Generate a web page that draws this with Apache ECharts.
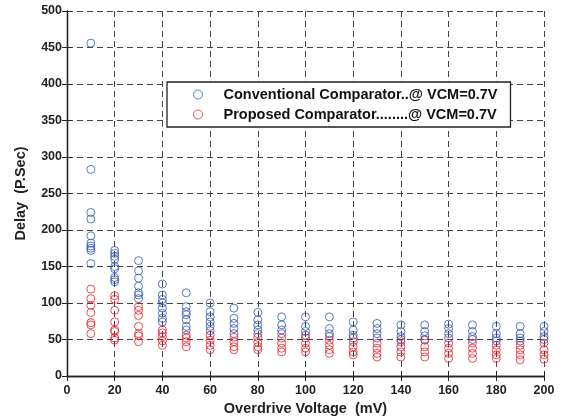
<!DOCTYPE html>
<html>
<head>
<meta charset="utf-8">
<script src="https://cdn.jsdelivr.net/npm/echarts@6/dist/echarts.min.js"></script>
<style>html,body{margin:0;padding:0;background:#fff;}#c{width:564px;height:419px;}</style>
</head>
<body>
<div id="c"></div>
<script>
var overdrive = [10,20,30,40,50,60,70,80,90,100,110,120,130,140,150,160,170,180,190,200];
var conventionalDelay = [
  [456,283,224,215,192,182,178,175,172,154],
  [172,168,164,160,150,147,135,132,129],
  [158,144,134,123,114,111,106],
  [126,111,105,100,93,86,79,74],
  [114,95,88,84,77,68,63],
  [100,88,81,74,68,62],
  [93,79,72,65,58],
  [87,77,70,63,58],
  [81,70,63,58],
  [81,68,61,56],
  [81,65,58,54],
  [74,63,56,52],
  [72,65,58,52],
  [70,61,54,50],
  [70,61,55,50],
  [71,65,58,52],
  [70,61,54,50],
  [68,58,52,48],
  [68,58,52,48],
  [68,61,54,50]
];
var proposedDelay = [
  [119,106,97,87,73,70,58],
  [110,105,90,74,63,61,52,49],
  [95,90,83,68,58,55,47],
  [63,59,54,48,42],
  [56,52,47,40],
  [56,49,42,36],
  [53,47,40,36],
  [53,46,40,36],
  [52,45,38,33],
  [52,45,38,33],
  [49,42,36,31],
  [47,40,33,29],
  [45,38,31,26],
  [47,40,33,26],
  [49,40,33,26],
  [45,38,31,24],
  [45,38,31,24],
  [42,36,29,24],
  [42,36,29,22],
  [45,36,29,23]
];
var xTicks = [0,20,40,60,80,100,120,140,160,180,200];
var yTicks = [0,50,100,150,200,250,300,350,400,450,500];

function toPoints(vals){
  var out = [];
  for (var i = 0; i < overdrive.length; i++) {
    for (var j = 0; j < vals[i].length; j++) out.push([overdrive[i], vals[i][j]]);
  }
  return out;
}
var FONT = 'Arial, "Liberation Sans", sans-serif';
var chart = echarts.init(document.getElementById('c'));
var axisCommon = {
  axisLine: {show: true, lineStyle: {color: '#222', width: 1.3}},
  axisTick: {show: true, inside: true, length: 5, lineStyle: {color: '#222'}}
};
chart.setOption({
  animation: false,
  backgroundColor: '#fff',
  grid: {left: 67, right: 20, top: 11, bottom: 43, containLabel: false, outerBoundsMode: 'none'},
  legend: {
    orient: 'vertical', left: 167, top: 82,
    backgroundColor: '#fff', borderColor: '#222', borderWidth: 1.3,
    padding: [5, 13, 5, 26], itemGap: 5, itemWidth: 9, itemHeight: 9,
    textStyle: {fontFamily: FONT, fontWeight: 'bold', fontSize: 14.5, color: '#111', lineHeight: 15, padding: [0,0,0,16]},
    data: [
      {name: 'Conventional Comparator..@ VCM=0.7V', icon: 'circle', itemStyle: {color: 'transparent', borderColor: '#3557b0', borderWidth: 1}},
      {name: 'Proposed Comparator........@ VCM=0.7V', icon: 'circle', itemStyle: {color: 'transparent', borderColor: '#e8202a', borderWidth: 1}}
    ]
  },
  xAxis: [
    Object.assign({
      type: 'value', min: 0, max: 200, interval: 20,
      name: 'Overdrive Voltage  (mV)', nameLocation: 'middle', nameGap: 25,
      nameTextStyle: {fontFamily: FONT, fontWeight: 'bold', fontSize: 14.5, color: '#222'},
      axisLabel: {fontFamily: FONT, fontWeight: 'bold', fontSize: 12.5, color: '#222', margin: 8},
      splitLine: {show: true, lineStyle: {color: '#444', type: [6,4], width: 1}}
    }, axisCommon),
    Object.assign({
      type: 'value', min: 0, max: 200, interval: 20, position: 'top',
      axisLabel: {show: false}, splitLine: {show: false}
    }, axisCommon)
  ],
  yAxis: [
    Object.assign({
      type: 'value', min: 0, max: 500, interval: 50,
      name: 'Delay  (P.Sec)', nameLocation: 'middle', nameGap: 39, nameRotate: 90,
      nameTextStyle: {fontFamily: FONT, fontWeight: 'bold', fontSize: 14.5, color: '#222'},
      axisLabel: {fontFamily: FONT, fontWeight: 'bold', fontSize: 12.5, color: '#222', margin: 5},
      splitLine: {show: true, lineStyle: {color: '#444', type: [6,4], width: 1}}
    }, axisCommon),
    Object.assign({
      type: 'value', min: 0, max: 500, interval: 50, position: 'right',
      axisLabel: {show: false}, splitLine: {show: false}
    }, axisCommon)
  ],
  series: [
    {
      name: 'Conventional Comparator..@ VCM=0.7V', type: 'scatter', symbol: 'circle', symbolSize: 8,
      itemStyle: {color: 'transparent', borderColor: '#3557b0', borderWidth: 1},
      data: toPoints(conventionalDelay)
    },
    {
      name: 'Proposed Comparator........@ VCM=0.7V', type: 'scatter', symbol: 'circle', symbolSize: 8,
      itemStyle: {color: 'transparent', borderColor: '#e8202a', borderWidth: 1},
      data: toPoints(proposedDelay)
    }
  ]
});
</script>
</body>
</html>
